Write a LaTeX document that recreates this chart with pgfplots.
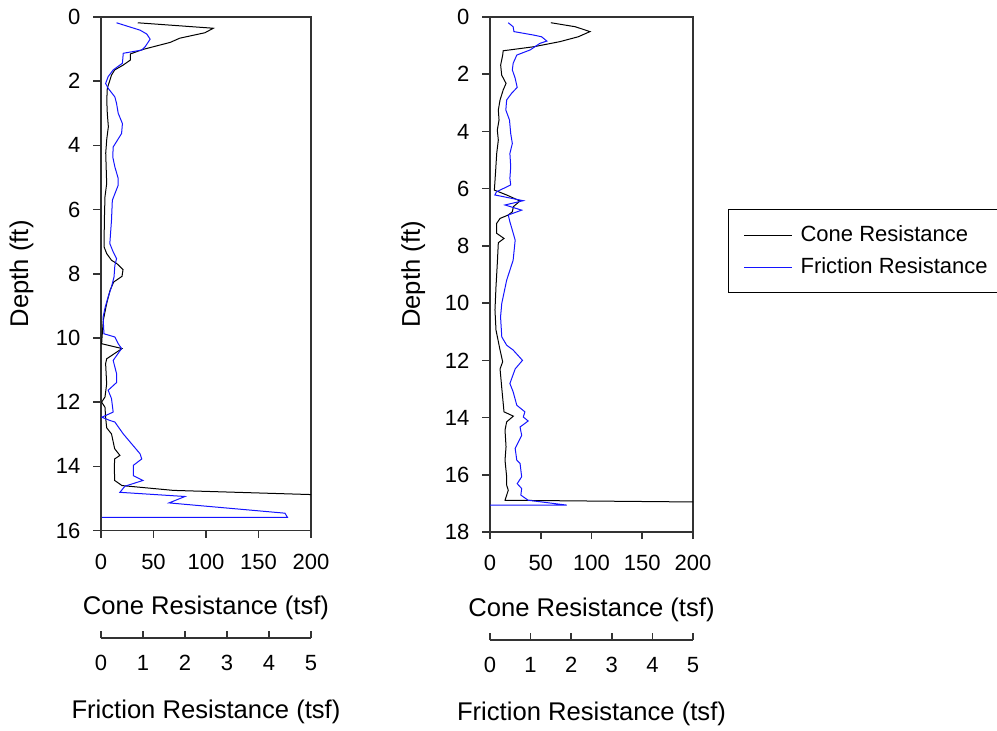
\documentclass[border=0pt]{standalone}
\usepackage{pgfplots}
\pgfplotsset{compat=1.18}
\usepackage{fontspec}
\setmainfont{Liberation Sans}
\definecolor{fricblue}{RGB}{20,20,255}

\pgfplotsset{
  cpt frame/.style={
    scale only axis, y dir=reverse, xmin=0, xmax=200, ymin=0,
    axis line style={black!80, line width=0.9pt},
    tick align=outside, xtick pos=bottom, ytick pos=left,
    xtick={0,50,...,200},
    every tick/.style={black!80, line width=0.8pt},
    xtick style={/pgfplots/major tick length=3.5pt},
    ytick style={/pgfplots/major tick length=4pt},
    tick label style={font=\fontsize{11}{13}\selectfont},
    /pgf/number format/assume math mode=true,
    label style={font=\fontsize{12.8}{15}\selectfont},
    xlabel={Cone Resistance (tsf)},
    ylabel={Depth (ft)},
    xlabel style={at={(axis description cs:0.5,-0.151)}, anchor=center},
    ylabel style={at={(axis description cs:-0.378,0.5)}, anchor=center},
    xticklabel style={yshift=-4pt},
    yticklabel style={xshift=-2.5pt},
  },
  fric data/.style={
    scale only axis, y dir=reverse, xmin=0, xmax=5, ymin=0, hide axis,
  },
  fric scale/.style={
    scale only axis, height=1pt, xmin=0, xmax=5, ymin=0, ymax=1,
    axis x line=bottom, axis y line=none,
    axis line style={black!80, line width=0.9pt, -},
    xtick={0,...,5}, tick align=inside,
    every tick/.style={black!80, line width=0.8pt},
    major tick length=3.5pt,
    tick label style={font=\fontsize{11}{13}\selectfont},
    /pgf/number format/assume math mode=true,
    xticklabel style={yshift=-5pt},
    xlabel={Friction Resistance (tsf)},
    label style={font=\fontsize{12.8}{15}\selectfont},
    xlabel style={at={(axis description cs:0.5,0)}, anchor=center, yshift=-37pt},
  },
}

\begin{document}
\begin{tikzpicture}
\useasboundingbox (0pt,0pt) rectangle (498.5pt,365pt);

% ---- left sounding ----
\begin{axis}[cpt frame, at={(50.5pt,99.75pt)}, anchor=south west,
  width=105pt, height=256.75pt, ymax=16, ytick={0,2,...,16}]
\addplot[black, line width=0.5pt] coordinates {
 (35,0.18) (107,0.35) (99,0.49) (75,0.66) (66,0.79) (40,1.01) (28,1.15) (28,1.34)
 (21,1.50) (13,1.65) (10,1.81) (8,2.02) (6,2.22) (5.5,2.6) (6,3.0) (7,3.42)
 (5.5,3.8) (4.5,4.24) (5,4.77) (5.4,5.19) (3.8,5.6) (3.2,6.33) (2.9,7.16) (5.4,7.37)
 (10,7.58) (15,7.68) (21,7.87) (20,8.08) (12,8.26) (8.6,8.52) (5.4,8.93) (2.2,9.45)
 (1,9.97) (0.6,10.18) (20,10.33) (5.4,10.65) (4.4,10.8) (5.4,11.43) (3.8,11.84) (0.6,12.0)
 (3.8,12.16) (4.4,12.47) (5.4,12.8) (10,12.99) (13,13.45) (18,13.66) (13,13.77) (12.7,14.03)
 (13,14.44) (20,14.6) (69,14.75) (200,14.88)
};
\end{axis}
\begin{axis}[fric data, at={(50.5pt,99.75pt)}, anchor=south west,
  width=105pt, height=256.75pt, ymax=16]
\addplot[fricblue, line width=0.5pt] coordinates {
 (0.37,0.18) (0.93,0.41) (1.09,0.53) (1.17,0.69) (1.05,0.93) (0.97,1.03) (0.53,1.13) (0.51,1.44)
 (0.29,1.65) (0.17,1.86) (0.11,2.07) (0.17,2.22) (0.33,2.49) (0.37,2.69) (0.41,3.0) (0.51,3.32)
 (0.49,3.63) (0.29,4.05) (0.28,4.36) (0.33,4.67) (0.41,5.03) (0.41,5.24) (0.27,5.71) (0.25,6.33)
 (0.21,7.06) (0.29,7.32) (0.37,7.53) (0.33,7.74) (0.31,8.1) (0.25,8.41) (0.17,8.72) (0.1,9.04)
 (0.05,9.35) (0.07,9.87) (0.33,9.97) (0.41,10.18) (0.49,10.33) (0.29,10.7) (0.37,11.11) (0.37,11.39)
 (0.17,11.63) (0.25,11.89) (0.29,12.31) (0.02,12.47) (0.21,12.57) (0.33,12.62) (0.53,12.99) (0.73,13.3)
 (0.93,13.61) (0.97,13.77) (0.77,13.97) (0.77,14.29) (1.0,14.44) (0.57,14.62) (0.45,14.81) (2.0,14.94)
 (1.62,15.14) (4.38,15.46) (4.44,15.59) (0.02,15.59)
};
\end{axis}
\begin{axis}[fric scale, at={(50.5pt,46pt)}, anchor=south west, width=105pt]
\end{axis}

% ---- right sounding ----
\begin{axis}[cpt frame, at={(245pt,99pt)}, anchor=south west,
  width=101.5pt, height=257.5pt, ymax=18, ytick={0,2,...,18},
  legend style={at={(axis description cs:1.1724,0.6272)}, anchor=north west,
    draw=black, line width=0.6pt, font=\fontsize{11}{13}\selectfont,
    inner xsep=7.5pt, inner ysep=6pt, row sep=2.5pt, cells={anchor=west}},
  legend image code/.code={\draw[#1, line width=0.5pt] (0pt,0pt) -- (24pt,0pt);
    \path (26pt,0pt);}]
\addplot[black, line width=0.5pt] coordinates {
 (60,0.2) (84,0.34) (98.5,0.51) (87,0.69) (69,0.86) (43,1.04) (13,1.18) (12.5,1.33)
 (10.5,1.68) (11.5,2.03) (15.8,2.32) (13,2.55) (9.9,2.9) (8.2,3.25) (8.9,3.6) (7.2,3.95)
 (8.2,4.3) (6.6,4.77) (5.6,5.35) (4.3,6.05) (16.4,6.22) (29.5,6.43) (23,6.63) (22,6.81)
 (18,6.92) (9.9,7.04) (6.6,7.21) (6.6,7.56) (13.8,7.74) (8.2,7.89) (7.2,8.61) (5.9,9.43)
 (4.9,10.24) (5.9,10.94) (9.9,11.64) (12.5,12.05) (9.9,12.3) (11.5,12.93) (13.8,13.8) (23,13.95)
 (16.4,14.15) (14.8,14.44) (15.8,15.02) (14.8,15.49) (16.4,16.07) (16.4,16.36) (18,16.54) (14.8,16.89)
 (200,16.95)
};
\addlegendimage{fricblue, line width=0.5pt}
\legend{Cone Resistance, Friction Resistance}
\end{axis}
\begin{axis}[fric data, at={(245pt,99pt)}, anchor=south west,
  width=101.5pt, height=257.5pt, ymax=18]
\addplot[fricblue, line width=0.5pt] coordinates {
 (0.45,0.2) (0.57,0.34) (0.59,0.51) (1.07,0.63) (1.27,0.69) (1.4,0.84) (1.23,0.92) (0.99,1.15)
 (0.66,1.33) (0.57,1.62) (0.55,1.85) (0.62,2.14) (0.67,2.46) (0.53,2.67) (0.41,2.9) (0.39,3.25)
 (0.48,3.6) (0.51,4.07) (0.55,4.42) (0.49,4.77) (0.51,5.23) (0.49,5.64) (0.51,5.87) (0.16,6.11)
 (0.12,6.22) (0.82,6.42) (0.37,6.57) (0.78,6.75) (0.45,6.92) (0.49,7.16) (0.55,7.45) (0.62,7.8)
 (0.57,8.5) (0.41,9.2) (0.29,10.01) (0.26,10.48) (0.29,11.18) (0.41,11.47) (0.57,11.64) (0.8,12.0)
 (0.62,12.3) (0.49,12.81) (0.57,13.1) (0.66,13.57) (0.86,13.8) (0.82,13.98) (0.94,14.12) (0.74,14.33)
 (0.78,14.62) (0.62,15.08) (0.66,15.49) (0.74,15.6) (0.78,16.07) (0.67,16.31) (0.78,16.48) (0.76,16.71)
 (0.94,16.89) (1.89,17.06) (0,17.06)
};
\end{axis}
\begin{axis}[fric scale, at={(245pt,45pt)}, anchor=south west, width=101.5pt]
\end{axis}
\end{tikzpicture}
\end{document}
